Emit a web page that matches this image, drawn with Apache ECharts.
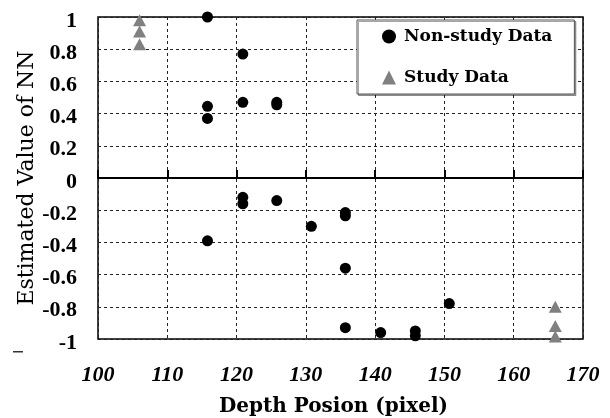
<!DOCTYPE html>
<html>
<head>
<meta charset="utf-8">
<script src="https://cdn.jsdelivr.net/npm/echarts@6/dist/echarts.min.js"></script>
<style>html,body{margin:0;padding:0;background:#fff;}#c{width:610px;height:418px;}</style>
</head>
<body>
<div id="c"></div>
<script>
// ---- data ----
const nonStudyX = [115.8, 120.9, 115.8, 115.8, 120.9, 125.8, 125.8, 120.9, 120.9, 125.8, 115.8, 130.8, 135.7, 135.7, 135.7, 135.7, 140.8, 145.8, 145.8, 150.7];
const nonStudyY = [1.0, 0.77, 0.445, 0.37, 0.47, 0.47, 0.455, -0.12, -0.16, -0.14, -0.39, -0.30, -0.215, -0.235, -0.56, -0.93, -0.96, -0.95, -0.98, -0.78];
const studyX = [106, 106, 106, 166, 166, 166];
const studyY = [0.98, 0.91, 0.83, -0.80, -0.92, -0.985];
const xTicks = [100, 110, 120, 130, 140, 150, 160, 170];
const yTicks = [-1, -0.8, -0.6, -0.4, -0.2, 0, 0.2, 0.4, 0.6, 0.8, 1];
const seriesNames = ['Non-study Data', 'Study Data'];
const xTitle = 'Depth Posion (pixel)';
const yTitle = 'Estimated Value of NN';

const pair = (xs, ys) => xs.map((x, i) => [x, ys[i]]);
const numFont = '"Liberation Serif", "Times New Roman", serif';
const txtFont = '"DejaVu Serif", serif';

const chart = echarts.init(document.getElementById('c'), null, {renderer: 'canvas'});
chart.setOption({
  animation: false,
  backgroundColor: '#fff',
  grid: {left: 98, right: 27, top: 17, bottom: 79, outerBoundsMode: 'none', containLabel: false,
    show: true, borderColor: '#000', borderWidth: 1.5, backgroundColor: 'transparent'},
  legend: {
    orient: 'vertical', left: 357, top: 20,
    padding: [8, 22, 8, 25],
    itemWidth: 14, itemHeight: 14, itemGap: 24,
    backgroundColor: '#fff', borderColor: '#555', borderWidth: 1,
    shadowColor: 'rgba(0,0,0,0.35)', shadowOffsetX: 1.5, shadowOffsetY: 1.5, shadowBlur: 0,
    textStyle: {fontFamily: txtFont, fontWeight: 'bold', fontSize: 17, color: '#000', lineHeight: 16, padding: [0, 0, 0, 3]},
    data: [{name: seriesNames[0], icon: 'circle'}, {name: seriesNames[1], icon: 'triangle'}]
  },
  xAxis: [
    {
      type: 'value', position: 'bottom', min: xTicks[0], max: xTicks[xTicks.length - 1], interval: 10,
      axisLine: {show: false, onZero: false}, axisTick: {show: false},
      axisLabel: {margin: 25, fontFamily: numFont, fontStyle: 'italic', fontWeight: 'bold', fontSize: 22, color: '#000'},
      splitLine: {show: true, lineStyle: {color: '#222', width: 1, type: [3, 3]}},
      name: xTitle, nameLocation: 'middle', nameGap: 58, nameMoveOverlap: false,
      nameTextStyle: {fontFamily: txtFont, fontWeight: 'bold', fontSize: 20, color: '#000', padding: [0, 14, 0, 0]}
    },
    {
      type: 'value', position: 'top', min: xTicks[0], max: xTicks[xTicks.length - 1], interval: 10,
      axisLine: {show: true, onZero: true, onZeroAxisIndex: 0, lineStyle: {color: '#000', width: 2}},
      axisTick: {show: true, inside: false, length: 8, lineStyle: {color: '#000', width: 2}},
      axisLabel: {show: false}, splitLine: {show: false}
    }
  ],
  yAxis: {
    type: 'value', min: yTicks[0], max: yTicks[yTicks.length - 1], interval: 0.2,
    axisLine: {show: false, onZero: false}, axisTick: {show: false},
    axisLabel: {margin: 21, color: '#000',
      formatter: v => '{a|' + String(+v.toFixed(1)) + '}',
      rich: {a: {fontFamily: numFont, fontWeight: 'bold', fontSize: 22, color: '#000', padding: [8, 0, 0, 0]}}},
    splitLine: {show: true, lineStyle: {color: '#222', width: 1, type: [3, 3]}},
    name: yTitle, nameLocation: 'middle', nameRotate: 90, nameGap: 60, nameMoveOverlap: false,
    nameTextStyle: {fontFamily: txtFont, fontSize: 22, color: '#000'}
  },
  graphic: [{type: 'rect', shape: {x: 13, y: 351, width: 10, height: 1.5}, style: {fill: '#333'}}],
  series: [
    {name: seriesNames[0], type: 'scatter', xAxisIndex: 0, symbol: 'circle', symbolSize: 11,
      itemStyle: {color: '#000', opacity: 1}, data: pair(nonStudyX, nonStudyY), z: 5},
    {name: seriesNames[1], type: 'scatter', xAxisIndex: 0, symbol: 'triangle', symbolSize: [13, 12],
      itemStyle: {color: '#808080', opacity: 1}, data: pair(studyX, studyY), z: 5}
  ]
});
</script>
</body>
</html>
